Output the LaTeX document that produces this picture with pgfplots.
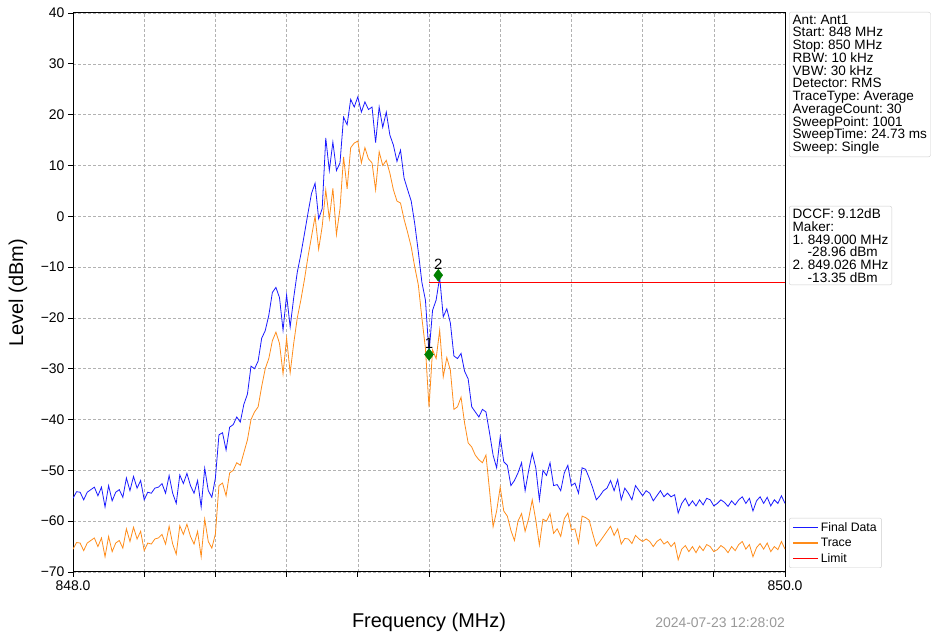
\documentclass[border=0pt]{standalone}
\usepackage{fontspec}
\setmainfont{Liberation Sans}
\usepackage{pgfplots}
\usepackage{pgfplotstable}
\pgfplotsset{compat=1.18}
\definecolor{finalblue}{HTML}{1A1AFF}
\definecolor{traceorange}{HTML}{FF8C1A}
\definecolor{mkgreen}{HTML}{008000}

% f [MHz], Final Data [dBm], Trace [dBm]
\pgfplotstableread{
f final trace
848.00 -55.5 -65.5
848.01 -54.2 -64.2
848.02 -54.3 -64.3
848.03 -55.8 -65.8
848.04 -54.3 -64.3
848.05 -53.8 -63.8
848.06 -53.3 -63.3
848.07 -55.0 -65.0
848.08 -53.3 -63.3
848.09 -57.2 -67.0
848.10 -53.0 -63.0
848.11 -56.0 -66.0
848.12 -54.3 -64.3
848.13 -53.8 -63.8
848.14 -55.3 -65.3
848.15 -51.5 -61.5
848.16 -54.0 -64.0
848.17 -51.2 -61.2
848.18 -53.5 -63.5
848.19 -52.0 -62.0
848.20 -55.8 -65.8
848.21 -54.3 -64.3
848.22 -54.5 -64.5
848.23 -53.5 -63.5
848.24 -53.3 -63.3
848.25 -52.6 -62.6
848.26 -54.5 -64.5
848.27 -51.0 -61.0
848.28 -54.5 -64.5
848.29 -56.5 -66.5
848.30 -50.9 -60.9
848.31 -52.6 -62.6
848.32 -50.6 -60.6
848.33 -53.0 -63.0
848.34 -54.5 -64.5
848.35 -52.0 -62.0
848.36 -57.2 -67.0
848.37 -49.6 -59.6
848.38 -54.0 -64.0
848.39 -55.3 -65.3
848.40 -51.5 -62.5
848.41 -43.0 -53.0
848.42 -42.6 -52.5
848.43 -46.0 -55.0
848.44 -41.5 -50.5
848.45 -41.0 -50.0
848.46 -39.5 -48.5
848.47 -40.5 -49.0
848.48 -37.0 -46.5
848.49 -35.0 -44.0
848.50 -29.5 -40.0
848.51 -30.0 -38.5
848.52 -28.5 -37.5
848.53 -24.0 -33.5
848.54 -22.5 -30.0
848.55 -19.5 -28.0
848.56 -15.0 -24.5
848.57 -14.0 -22.8
848.58 -16.0 -25.0
848.59 -22.4 -31.0
848.60 -15.5 -24.0
848.61 -21.8 -30.8
848.62 -16.0 -25.0
848.63 -11.0 -20.0
848.64 -7.5 -16.5
848.65 -3.5 -12.5
848.66 0.6 -8.0
848.67 4.5 -4.0
848.68 6.5 0.0
848.69 -0.5 -6.5
848.70 1.5 -2.0
848.71 15.4 5.2
848.72 9.0 -0.5
848.73 14.6 5.5
848.74 9.0 -3.6
848.75 10.5 1.5
848.76 19.5 11.7
848.77 18.0 5.4
848.78 23.0 13.5
848.79 21.5 14.4
848.80 23.5 14.8
848.81 20.5 10.5
848.82 22.5 13.5
848.83 21.0 11.3
848.84 21.5 10.5
848.85 14.5 5.2
848.86 21.5 12.7
848.87 17.5 10.0
848.88 20.5 11.0
848.89 16.0 8.5
848.90 14.0 5.2
848.91 10.8 3.0
848.92 13.0 2.6
848.93 7.5 -0.6
848.94 5.2 -3.2
848.95 3.0 -6.0
848.96 -1.5 -10.0
848.97 -7.0 -13.5
848.98 -13.0 -20.0
848.99 -16.5 -26.0
849.00 -27.0 -37.6
849.01 -18.5 -26.3
849.02 -16.5 -28.0
849.03 -12.0 -22.4
849.04 -19.8 -31.6
849.05 -18.2 -27.8
849.06 -21.0 -30.3
849.07 -27.5 -38.0
849.08 -28.0 -37.5
849.09 -27.0 -35.6
849.10 -30.5 -40.7
849.11 -32.0 -44.6
849.12 -37.5 -45.4
849.13 -38.5 -47.0
849.14 -39.5 -47.9
849.15 -38.0 -48.5
849.16 -38.5 -47.0
849.17 -42.6 -53.9
849.18 -47.0 -61.1
849.19 -49.5 -58.0
849.20 -43.4 -53.3
849.21 -48.3 -58.0
849.22 -49.0 -59.0
849.23 -53.0 -61.8
849.24 -52.0 -63.8
849.25 -50.5 -60.0
849.26 -48.5 -58.5
849.27 -54.0 -62.0
849.28 -50.0 -59.5
849.29 -46.6 -55.8
849.30 -49.5 -59.8
849.31 -55.8 -64.7
849.32 -50.0 -59.6
849.33 -51.0 -60.0
849.34 -48.5 -58.5
849.35 -53.0 -62.4
849.36 -52.8 -61.5
849.37 -54.0 -63.0
849.38 -50.5 -59.5
849.39 -49.0 -58.4
849.40 -53.0 -61.7
849.41 -52.5 -61.5
849.42 -54.5 -64.3
849.43 -49.5 -59.0
849.44 -49.8 -59.3
849.45 -51.5 -59.8
849.46 -53.5 -62.5
849.47 -55.8 -64.9
849.48 -55.0 -64.0
849.49 -54.0 -63.0
849.50 -53.5 -62.0
849.51 -52.0 -61.0
849.52 -54.0 -62.8
849.53 -51.8 -61.5
849.54 -55.8 -64.5
849.55 -53.5 -63.4
849.56 -54.5 -63.5
849.57 -55.8 -64.4
849.58 -53.0 -62.8
849.59 -54.0 -63.5
849.60 -55.0 -64.0
849.61 -54.0 -63.5
849.62 -54.5 -64.0
849.63 -56.0 -65.0
849.64 -55.0 -64.0
849.65 -54.0 -63.5
849.66 -55.2 -64.5
849.67 -54.5 -64.0
849.68 -55.2 -65.0
849.69 -54.8 -64.2
849.70 -58.4 -67.6
849.71 -56.5 -65.5
849.72 -55.5 -64.8
849.73 -57.0 -66.0
849.74 -56.0 -65.0
849.75 -57.0 -66.2
849.76 -55.8 -64.9
849.77 -56.8 -65.8
849.78 -55.5 -64.6
849.79 -55.8 -65.0
849.80 -57.0 -66.0
849.81 -56.5 -65.6
849.82 -55.8 -64.8
849.83 -56.3 -65.3
849.84 -57.1 -66.2
849.85 -56.0 -65.0
849.86 -56.8 -65.8
849.87 -55.8 -64.6
849.88 -55.2 -64.0
849.89 -56.5 -65.5
849.90 -55.5 -64.6
849.91 -58.0 -67.0
849.92 -56.0 -65.2
849.93 -55.2 -64.4
849.94 -56.5 -65.5
849.95 -55.3 -64.3
849.96 -57.0 -66.0
849.97 -55.8 -65.0
849.98 -56.5 -65.6
849.99 -55.0 -64.0
850.00 -56.5 -65.5
}\spectrum

\begin{document}
\frenchspacing
\begin{tikzpicture}
\useasboundingbox (0,0) rectangle (935bp,635bp);
\begin{axis}[
    name=ax,
    at={(73bp,63bp)}, anchor=south west,
    scale only axis,
    width=712bp, height=559bp,
    xmin=848, xmax=850, ymin=-70, ymax=40,
    xtick={848,848.2,848.4,848.6,848.8,849,849.2,849.4,849.6,849.8,850},
    xticklabels={848.0,{},{},{},{},{},{},{},{},{},850.0},
    ytick={-70,-60,-50,-40,-30,-20,-10,0,10,20,30,40},
    yticklabels={−70,−60,−50,−40,−30,−20,−10,0,10,20,30,40},
    tick label style={font=\fontsize{14}{16}\selectfont},
    tick pos=left, tick align=outside,
    major tick length=5bp,
    every tick/.style={black, line width=0.8bp},
    axis line style={black, line width=1bp},
    grid=major,
    major grid style={gray!60, line width=0.6bp, dash pattern=on 3bp off 2bp},
    legend cell align=left,
    legend image code/.code={\draw[#1] (0bp,0bp) -- (25bp,0bp);},
    legend image post style={line width=1.6bp},
    legend style={at={(1,0)}, anchor=south west, xshift=4bp, yshift=4bp,
        draw=black!20, rounded corners=2bp,
        font=\fontsize{12.3}{12.5}\selectfont,
        inner xsep=3bp, inner ysep=2bp, row sep=1.5bp,
        nodes={inner sep=2bp}},
]
\addplot[finalblue, line width=0.8bp] table[x=f, y=final] {\spectrum};
\addlegendentry{Final Data}
\addplot[traceorange, line width=0.8bp] table[x=f, y=trace] {\spectrum};
\addlegendentry{Trace}
\addplot[red, line width=1bp] coordinates {(849.0,-13) (850.0,-13)};
\addlegendentry{Limit}
\addplot[only marks, mark=diamond*, mark size=6bp, draw=mkgreen, fill=mkgreen, forget plot]
    coordinates {(849.0,-27.2) (849.026,-11.6)};
\node[anchor=south, yshift=5bp, inner sep=0.5bp, font=\fontsize{15}{15}\selectfont] at (axis cs:849.0,-27.2) {1};
\node[anchor=south, yshift=5bp, inner sep=0.5bp, font=\fontsize{15}{15}\selectfont] at (axis cs:849.026,-11.6) {2};
\end{axis}

% labels and info boxes
\node[rotate=90, font=\fontsize{20}{22}\selectfont] at ([xshift=-55bp]ax.west) {Level (dBm)};
\node[anchor=base, font=\fontsize{20}{22}\selectfont] at ([yshift=-55bp]ax.south) {Frequency (MHz)};
\node[anchor=base east, inner sep=0pt, text=black!40, font=\fontsize{14}{16}\selectfont] at ([yshift=-55bp]ax.south east) {2024-07-23 12:28:02};

\node[anchor=north west, draw=black!20, rounded corners=2bp, align=left,
    inner xsep=3.5bp, inner ysep=2.5bp, font=\fontsize{13.6}{12.8}\selectfont]
    at ([xshift=4bp,yshift=1bp]ax.north east)
    {Ant: Ant1\\Start: 848 MHz\\Stop: 850 MHz\\RBW: 10 kHz\\VBW: 30 kHz\\Detector: RMS\\TraceType: Average\\AverageCount: 30\\SweepPoint: 1001\\SweepTime: 24.73 ms\\Sweep: Single};

\node[anchor=north west, draw=black!20, rounded corners=2bp, align=left,
    inner xsep=3.5bp, inner ysep=2.5bp, font=\fontsize{13.6}{12.8}\selectfont]
    at ([xshift=4bp,yshift=-193bp]ax.north east)
    {DCCF: 9.12dB\\Maker:\\1. 849.000 MHz\\\hspace*{15bp}-28.96 dBm\\2. 849.026 MHz\\\hspace*{15bp}-13.35 dBm};
\end{tikzpicture}
\end{document}
